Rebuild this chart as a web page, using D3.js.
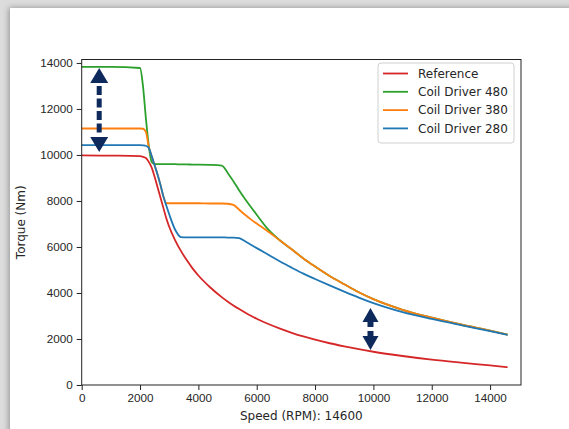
<!DOCTYPE html>
<meta charset="utf-8">
<style>
body { margin: 0; background: #dcdcdc; }
svg { display: block; font-family: "DejaVu Sans", sans-serif; }
.tick text { fill: #262626; font-size: 11.7px; }
.lbl { fill: #262626; font-size: 12px; }
</style>
<body>
<svg id="chart" width="569" height="429"></svg>
<script src="https://cdn.jsdelivr.net/npm/d3@7"></script>
<script>

// speed grid shared by every curve (RPM)
var speed = [0, 1000, 2000, 2100, 2200, 2300, 2400, 2500, 2600, 2700, 2800, 2900, 3000,
  3200, 3400, 3600, 3800, 4000, 4400, 4800, 5000, 5200, 5400, 5600, 5800, 6000,
  6400, 6800, 7200, 7600, 8000, 8500, 9000, 9500, 10000, 11000, 12000, 13000, 14000, 14600]

var torqueRef = [9980, 9970, 9950, 9920, 9870, 9700, 9450, 9050, 8600, 8150, 7700, 7250, 6880,
  6300, 5830, 5430, 5070, 4760, 4250, 3820, 3630, 3460, 3300, 3150, 3010, 2880,
  2650, 2450, 2270, 2110, 1970, 1815, 1680, 1555, 1445, 1260, 1100, 970, 850, 775]

var torque480 = [13830, 13830, 13780, 13000, 11600, 10400, 9700, 9610, 9600, 9600, 9600, 9600, 9600,
  9600, 9590, 9590, 9580, 9580, 9570, 9540, 9230, 8860, 8460, 8090, 7740, 7400,
  6750, 6280, 5900, 5500, 5150, 4740, 4380, 4030, 3730, 3270, 2930, 2630, 2360, 2190]

var torque380 = [11150, 11150, 11150, 11140, 11000, 10350, 9950, 9550, 9150, 8700, 8200, 7910, 7900,
  7900, 7900, 7900, 7900, 7900, 7890, 7890, 7880, 7830, 7620, 7400, 7200, 7020,
  6660, 6280, 5900, 5500, 5150, 4740, 4380, 4030, 3730, 3270, 2930, 2630, 2360, 2190]

var torque280 = [10430, 10430, 10430, 10420, 10400, 10300, 9950, 9550, 9150, 8700, 8200, 7800, 7420,
  6760, 6430, 6420, 6420, 6420, 6420, 6420, 6410, 6410, 6380, 6250, 6100, 5950,
  5660, 5370, 5100, 4840, 4610, 4330, 4060, 3800, 3560, 3170, 2870, 2600, 2340, 2175]

var seriesNames = ["Reference", "Coil Driver 480", "Coil Driver 380", "Coil Driver 280"]
var seriesColors = ["#d62728", "#2ca02c", "#ff7f0e", "#1f77b4"]
var seriesValues = [torqueRef, torque480, torque380, torque280]

var xTicks = [0, 2000, 4000, 6000, 8000, 10000, 12000, 14000]
var yTicks = [0, 2000, 4000, 6000, 8000, 10000, 12000, 14000]

// annotation arrows (speed, upper tip torque, lower tip torque)
var arrowSpeed = [600, 9900]
var arrowTop = [13780, 3350]
var arrowBottom = [10130, 1520]
var arrowDashed = [true, false]

var svg = d3.select("#chart")

// card with shadow
var defs = svg.append("defs")
var f = defs.append("filter").attr("id", "shadow").attr("x", "-5%").attr("y", "-5%")
  .attr("width", "110%").attr("height", "110%")
f.append("feDropShadow").attr("dx", -1).attr("dy", 0).attr("stdDeviation", 3)
  .attr("flood-color", "#000").attr("flood-opacity", 0.35)

svg.append("rect").attr("x", 10).attr("y", 8).attr("width", 600).attr("height", 460)
  .attr("fill", "#fff").attr("filter", "url(#shadow)")

var plotL = 81.7, plotR = 521, plotT = 59.5, plotB = 385

var x = d3.scaleLinear().domain([0, 15060]).range([plotL, plotR])
var y = d3.scaleLinear().domain([0, 14150]).range([plotB, plotT])

var g = svg.append("g")

// curves
var line = d3.line()
  .x(function(d, i) { return x(speed[i]) })
  .y(function(d) { return y(d) })
  .curve(d3.curveMonotoneX)

seriesValues.forEach(function(vals, k) {
  g.append("path")
    .datum(vals)
    .attr("d", line)
    .attr("fill", "none")
    .attr("stroke", seriesColors[k])
    .attr("stroke-width", 1.8)
    .attr("stroke-linejoin", "round")
})

// frame
g.append("rect").attr("x", plotL).attr("y", plotT)
  .attr("width", plotR - plotL).attr("height", plotB - plotT)
  .attr("fill", "none").attr("stroke", "#222").attr("stroke-width", 1)

var xAxis = d3.axisBottom(x).tickValues(xTicks).tickFormat(d3.format("d"))
  .tickSize(5).tickPadding(4)
var yAxis = d3.axisLeft(y).tickValues(yTicks).tickFormat(d3.format("d"))
  .tickSize(5).tickPadding(4)

var gx = g.append("g").attr("transform", "translate(0," + plotB + ")").call(xAxis)
var gy = g.append("g").attr("transform", "translate(" + plotL + ",0)").call(yAxis)
;[gx, gy].forEach(function(a) {
  a.select(".domain").remove()
  a.selectAll(".tick line").attr("stroke", "#222")
  a.selectAll(".tick text").attr("font-family", null).attr("font-size", null)
})

g.append("text").attr("class", "lbl")
  .attr("x", (plotL + plotR) / 2).attr("y", 420)
  .attr("text-anchor", "middle")
  .text("Speed (RPM): 14600")

g.append("text").attr("class", "lbl")
  .attr("transform", "translate(25," + (plotT + plotB) / 2 + ") rotate(-90)")
  .attr("text-anchor", "middle")
  .text("Torque (Nm)")

// arrows
var navy = "#0e2a5c"
arrowSpeed.forEach(function(s, i) {
  var ax = x(s), yt = y(arrowTop[i]), yb = y(arrowBottom[i])
  var hl = arrowDashed[i] ? 15 : 14, hw = arrowDashed[i] ? 9 : 8, sw = arrowDashed[i] ? 5 : 6
  // heads
  g.append("path").attr("fill", navy)
    .attr("d", "M" + ax + "," + yt + "L" + (ax + hw) + "," + (yt + hl) + "L" + (ax - hw) + "," + (yt + hl) + "Z")
  g.append("path").attr("fill", navy)
    .attr("d", "M" + ax + "," + yb + "L" + (ax + hw) + "," + (yb - hl) + "L" + (ax - hw) + "," + (yb - hl) + "Z")
  if (arrowDashed[i]) {
    g.append("line").attr("x1", ax).attr("x2", ax)
      .attr("y1", yt + hl + 3).attr("y2", yb - hl - 1)
      .attr("stroke", navy).attr("stroke-width", sw)
      .attr("stroke-dasharray", "9,3.5")
  } else {
    var mid = (yt + yb) / 2
    g.append("rect").attr("x", ax - sw / 2).attr("y", yt + hl - 1)
      .attr("width", sw).attr("height", mid - 2 - (yt + hl - 1)).attr("fill", navy)
    g.append("rect").attr("x", ax - sw / 2).attr("y", mid + 2)
      .attr("width", sw).attr("height", (yb - hl + 1) - (mid + 2)).attr("fill", navy)
  }
})

// legend
var lg = g.append("g")
lg.append("rect").attr("x", 378).attr("y", 63).attr("width", 136).attr("height", 80)
  .attr("rx", 3).attr("fill", "#fff").attr("fill-opacity", 0.8)
  .attr("stroke", "#d0d0d0")
seriesNames.forEach(function(n, i) {
  var ly = 73.5 + i * 18.3
  lg.append("line").attr("x1", 383).attr("x2", 408).attr("y1", ly).attr("y2", ly)
    .attr("stroke", seriesColors[i]).attr("stroke-width", 1.8)
  lg.append("text").attr("class", "lbl").attr("x", 418).attr("y", ly + 4.3).text(n)
})

</script>
